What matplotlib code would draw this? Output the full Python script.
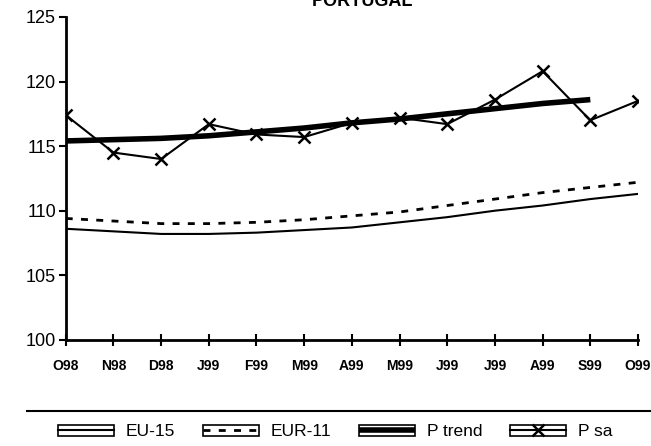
"""Portugal price index vs EU-15 / EUR-11, Oct 1998 - Oct 1999."""

import matplotlib

matplotlib.use("Agg")
import matplotlib.pyplot as plt
from matplotlib.legend_handler import HandlerLine2D
from matplotlib.lines import Line2D
from matplotlib.patches import Rectangle

plt.rcParams["font.family"] = ["Liberation Sans", "DejaVu Sans"]

months = ["O98", "N98", "D98", "J99", "F99", "M99", "A99", "M99", "J99", "J99", "A99", "S99", "O99"]
eu15 = [108.6, 108.4, 108.2, 108.2, 108.3, 108.5, 108.7, 109.1, 109.5, 110.0, 110.4, 110.9, 111.3]
eur11 = [109.4, 109.2, 109.0, 109.0, 109.1, 109.3, 109.6, 109.9, 110.4, 110.9, 111.4, 111.8, 112.2]
p_trend = [115.4, 115.5, 115.6, 115.8, 116.1, 116.4, 116.8, 117.1, 117.5, 117.9, 118.3, 118.6]
p_sa = [117.4, 114.5, 114.0, 116.7, 115.9, 115.7, 116.8, 117.2, 116.7, 118.6, 120.8, 117.0, 118.5]


class BoxedLine(HandlerLine2D):
    """Legend key drawn as a small box with the line inside it."""

    def create_artists(self, legend, orig_handle, xdescent, ydescent, width, height, fontsize, trans):
        arts = super().create_artists(legend, orig_handle, xdescent, ydescent, width, height, fontsize, trans)
        box = Rectangle((-xdescent, -ydescent + height * 0.05), width, height * 0.9,
                        fill=False, edgecolor="black", linewidth=1.2, transform=trans)
        return [box] + arts


def main() -> None:
    fig = plt.figure(figsize=(6.51, 4.46), dpi=100)
    ax = fig.add_axes([0.101, 0.238, 0.879, 0.724])

    x = list(range(len(months)))
    ax.plot(x, eu15, color="black", lw=1.5, label="EU-15")
    ax.plot(x, eur11, color="black", lw=2, dashes=(2.5, 3), label="EUR-11")
    ax.plot(x[:len(p_trend)], p_trend, color="black", lw=4, solid_capstyle="butt", label="P trend")
    ax.plot(x, p_sa, color="black", lw=1.5, marker="x", ms=8, mew=1.8, label="P sa")

    ax.set_xlim(0, 12)
    ax.set_ylim(100, 125)
    ax.set_yticks([100, 105, 110, 115, 120, 125])
    ax.set_xticks(x, months, fontweight="bold", fontsize=10)
    ax.tick_params(axis="y", labelsize=13, direction="out", length=5, width=1.5, pad=2)
    ax.tick_params(axis="x", direction="inout", length=9, width=1.5, pad=9)
    for side in ("top", "right"):
        ax.spines[side].set_visible(False)
    for side in ("left", "bottom"):
        ax.spines[side].set_linewidth(2)

    fig.text(0.556, 0.978, "PORTUGAL", ha="center", va="bottom", fontsize=13, fontweight="bold")

    fig.add_artist(Line2D([0.042, 1.0], [0.0785, 0.0785], color="black", lw=1.5))
    handles, labels = ax.get_legend_handles_labels()
    fig.legend(handles, labels, ncol=4, loc="center", bbox_to_anchor=(0.515, 0.032),
               frameon=False, fontsize=12.5, handlelength=3.2, handletextpad=0.7, columnspacing=1.6,
               handler_map={h: BoxedLine() for h in handles})

    fig.savefig("out.png", dpi=100)
    plt.close(fig)


if __name__ == "__main__":
    main()
